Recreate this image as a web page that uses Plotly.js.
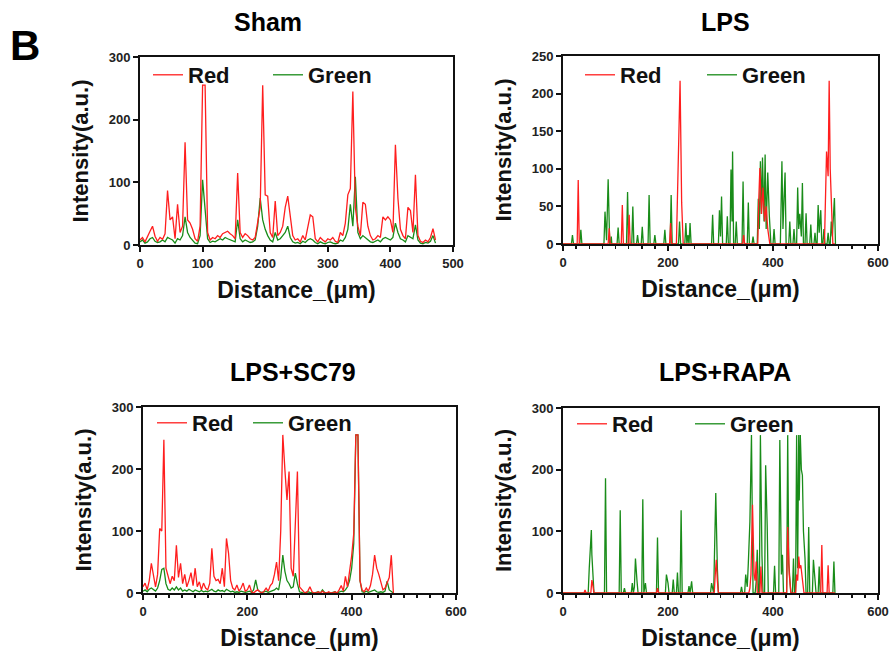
<!DOCTYPE html>
<html><head><meta charset="utf-8">
<script src="https://cdn.plot.ly/plotly-3.0.1.min.js"></script>
<style>html,body{margin:0;padding:0;background:#fff}#chart{width:891px;height:657px}</style>
</head><body><div id="chart"></div>
<script>
// ---------------- DATA ----------------
const panelTitles = ["Sham", "LPS", "LPS+SC79", "LPS+RAPA"];
const seriesNames = ["Red", "Green"];
const xTitle = "Distance_(μm)";
const yTitle = "Intensity(a.u.)";

// Sham (distance in μm)
const shamX = [0,4,8,12,16,20,24,28,32,36, 40,44,48,52,56,60,64,68,72,76,
  80,84,88,92,96,100,104,108,112,116, 120,124,128,132,136,140,144,148,152,156,
  160,164,168,172,176,180,184,188,192,196, 200,204,208,212,216,220,224,228,232,236,
  240,244,248,252,256,260,264,268,272,276, 280,284,288,292,296,300,304,308,312,316,
  320,324,328,332,336,340,344,348,352,356, 360,364,368,372,376,380,384,388,392,396,
  400,404,408,412,416,420,424,428,432,436, 440,444,448,452,456,460,464,468,472];
const shamRed = [8,12,5,15,22,30,14,6,12,9, 18,87,40,45,10,65,20,30,164,40,
  35,25,10,6,30,255,255,20,8,12, 10,15,12,18,20,22,18,15,10,115,
  20,12,18,15,10,8,12,40,60,255, 80,78,20,12,70,15,20,30,60,78,
  45,15,8,10,5,15,8,30,48,45, 10,5,12,8,5,10,8,12,6,4,
  20,15,35,80,90,245,60,30,15,68, 65,30,15,8,10,15,12,45,40,45,
  40,20,160,75,25,15,10,60,55,20, 112,15,6,4,8,5,12,26,8];
const shamGreen = [5,8,3,5,10,12,6,4,5,8, 5,12,10,8,3,10,8,15,45,20,
  12,8,3,2,15,104,60,10,4,6, 5,8,10,8,12,10,8,6,5,40,
  10,5,8,6,4,5,8,30,75,40, 25,15,8,5,20,8,10,15,20,30,
  12,5,3,4,2,6,4,8,10,8, 4,2,5,3,2,4,5,3,2,3,
  8,6,12,25,65,30,109,20,10,15, 12,8,5,4,6,8,5,10,12,10,
  8,12,35,20,10,8,5,15,12,10, 32,8,3,2,4,3,6,15,3];

// LPS
const lpsRedX = [0,27,29,31, 86,88,90, 111,113,115, 124,126,128, 203,205,207,
  216,218,220,223,226,229, 342,344,346, 371,373,375,378,381,384,387,390,392,394,
  498,500,502,505,507,509,511,514,518];
const lpsRed = [0,0,85,0, 0,21,0, 0,52,0, 0,39,0, 0,28,0,
  0,63,155,217,55,0, 0,12,0, 0,60,101,40,75,30,50,20,8,0,
  0,60,123,90,217,100,60,0,0];
const lpsGreenX = [0, 16,18,20, 32,34,36, 78,80,83,86,89, 91,92,93, 103,105,107,
  121,123,125, 131,133,135, 140,142,144, 149,151,153, 162,164,166, 173,175,177,
  192,194,196, 204,206,208, 220,222,224, 232,234,236,238,240,242,244, 283,285,287,
  296,298,300,302,304, 311,313,315, 318,320,322,323,325, 328,330,332, 341,343,345,
  351,353,355, 360,362,364, 370,372,374,376,378,380,383,385,387,390,393,396,
  400,402,404, 414,417,419,421,423,425, 430,432,434, 438,440,442,
  445,447,449,451,454,456,458, 461,463,465, 470,472,474, 478,480,482,
  484,486,488,491,493, 495,497,499, 503,505,507, 509,511,513,515,517,519];
const lpsGreen = [0, 0,12,0, 0,19,0, 0,43,5,86,0, 0,10,0, 0,22,0,
  0,69,0, 0,50,0, 0,12,0, 0,23,0, 0,65,0, 0,12,0,
  0,19,0, 0,65,0, 0,30,0, 0,28,0,12,0,28,0, 0,39,0,
  0,45,10,63,0, 0,37,0, 0,99,30,123,0, 0,30,0, 0,83,0,
  0,55,0, 0,10,0, 0,60,20,110,40,115,30,119,20,95,38,0,
  0,20,0, 0,110,20,60,95,0, 0,30,0, 0,20,0,
  0,75,20,40,10,81,0, 0,41,0, 0,26,0, 0,15,0,
  0,52,15,45,0, 0,20,0, 0,15,0, 0,30,10,40,61,0];

// LPS+SC79
const sc79X = [0,4,8,12,16,20,24,28,32,36, 40,44,48,52,56,60,64,68,72,76,
  80,84,88,92,96,100,104,108,112,116, 120,124,128,132,136,140,144,148,152,156,
  160,164,168,172,176,180,184,188,192,196, 200,204,208,212,216,220,224,228,232,236,
  240,244,248,252,256,260,264,268,272,276, 280,284,288,292,296,300,304,308,312,316,
  320,324,328,332,336,340,344,348,352,356, 360,364,368,372,376,380,384,388,392,396,
  400,404,408,412,416,420,424,428,432,436, 440,444,448,452,456,460,464,468,472,476, 480];
const sc79Red = [10,16,5,20,48,27,10,30,104,100, 247,40,27,15,27,20,77,25,48,15,
  30,10,20,33,12,40,10,18,5,16, 8,5,16,72,27,20,22,15,40,10,
  88,64,20,8,5,13,3,8,16,3, 5,13,2,0,3,5,2,0,3,8,
  3,12,16,30,50,20,100,255,199,150, 196,40,27,102,196,10,5,2,0,3,
  10,2,0,0,2,0,3,0,0,2, 0,0,2,0,5,12,3,27,10,35,
  60,96,255,255,20,5,2,8,3,12, 30,61,40,30,16,5,8,16,25,61, 0];
const sc79Green = [3,5,2,6,8,5,3,8,20,38, 40,15,6,4,8,5,10,5,8,3,
  5,3,6,4,2,5,3,2,4,2, 3,2,4,6,3,2,5,3,4,2,
  6,4,2,3,1,2,1,3,2,1, 2,3,1,5,21,5,2,1,2,3,
  1,2,3,5,8,5,25,61,35,20, 15,8,10,32,15,2,1,0,1,2,
  1,0,0,1,2,0,5,1,0,1, 0,1,2,0,1,3,2,5,10,20,
  40,80,255,255,20,2,1,3,1,2, 3,5,2,1,2,1,3,19,5,3, 0];

// LPS+RAPA
const rapaRedX = [0, 40,42,44, 53,55,57,59, 178,180,182, 288,290,292,294,296,
  354,356,358,361,364,366,368,370, 375,377,379, 426,428,431,434,
  443,445,447,449,451,453,456,459, 491,493,495, 503,505,507, 518];
const rapaRed = [0, 0,5,0, 0,21,12,0, 0,8,0, 0,30,54,20,0,
  0,8,30,143,30,20,51,0, 0,43,0, 0,107,30,0,
  0,30,20,59,40,45,20,0, 0,78,0, 0,45,0, 0];
const rapaGreenX = [0, 48,50,52,54,55,57,59, 79,81,83, 107,109,111, 115,117,119,
  130,132,134,136,138,141,143, 150,152,154,157,159, 178,180,182, 195,197,200,202,
  208,210,212, 216,218,220, 223,225,227, 238,240,242,245,247, 281,283,287,289,291,294,296,
  338,340,342, 346,348,351,353,356,359,362, 366,368,370,372, 374,376,379,381,
  384,386,389,391, 401,403,405, 411,413,416,418,420, 426,428,430,432,434, 437,439,441,
  443,445,447,449,450,452,454,456,458,461,463, 466,468,470, 475,477,480,482,
  486,488,490, 514,516,518];
const rapaGreen = [0, 0,40,78,102,62,30,0, 0,186,0, 0,134,0, 0,8,0,
  0,16,0,10,56,19,0, 0,152,0,16,0, 0,90,0, 0,30,16,0,
  0,22,0, 0,33,0, 0,134,0, 0,11,0,19,0, 0,16,0,78,162,40,0,
  0,10,0, 0,30,10,48,116,256,0, 0,19,70,0, 0,256,60,0,
  0,207,107,0, 0,44,0, 0,248,30,62,0, 0,256,48,20,0, 0,56,0,
  0,256,40,256,150,256,200,191,100,56,0, 0,107,0, 0,54,26,0,
  0,43,0, 0,51,0];

// ---------------- CHART ----------------
const W = 891, H = 657;
const FONT = "Arial, 'Liberation Sans', Helvetica, sans-serif";
const RED = "rgb(255,30,30)", GREEN = "rgb(25,140,25)";
const fx = v => v / W, fy = v => 1 - v / H;

const panelData = [
  {gx: shamX, g: shamGreen, rx: shamX, r: shamRed},
  {gx: lpsGreenX, g: lpsGreen, rx: lpsRedX, r: lpsRed},
  {gx: sc79X, g: sc79Green, rx: sc79X, r: sc79Red},
  {gx: rapaGreenX, g: rapaGreen, rx: rapaRedX, r: rapaRed}
];
const geom = [
  {xd:[140,453], yd:[57,245], xr:[0,500], yr:[0,300], xdt:100, ydt:100, minor:false, title:[268,22], leg:[148,75,75]},
  {xd:[563,878], yd:[56,244], xr:[0,600], yr:[0,250], xdt:200, ydt:50, minor:true, title:[725,22], leg:[580,75,77]},
  {xd:[143,456], yd:[407,593], xr:[0,600], yr:[0,300], xdt:200, ydt:100, minor:true, title:[293,372], leg:[152,423,51]},
  {xd:[563,878], yd:[408,593], xr:[0,600], yr:[0,300], xdt:200, ydt:100, minor:true, title:[725,372], leg:[572,424,73]}
];

const traces = [];
const layout = {
  width: W, height: H, margin: {l:0, r:0, t:0, b:0},
  paper_bgcolor: "#fff", plot_bgcolor: "#fff",
  font: {family: FONT, color: "#111"},
  showlegend: true, hovermode: false,
  annotations: [
    {text: "B", x: fx(25), y: fy(45), xref: "paper", yref: "paper", showarrow: false,
     xanchor: "center", yanchor: "middle", font: {size: 42, weight: "bold", color: "#000", family: FONT}}
  ]
};

geom.forEach((g, i) => {
  const n = i === 0 ? "" : String(i + 1);
  const legName = "legend" + n;
  const d = panelData[i];
  traces.push({x: d.gx, y: d.g, type: "scatter", mode: "lines", name: seriesNames[1],
    line: {color: GREEN, width: 1.3}, xaxis: "x" + n, yaxis: "y" + n, legend: legName, legendwidth: 80});
  traces.push({x: d.rx, y: d.r, type: "scatter", mode: "lines", name: seriesNames[0],
    line: {color: RED, width: 1.3}, xaxis: "x" + n, yaxis: "y" + n, legend: legName, legendwidth: g.leg[2]});

  const tickfont = {size: 13, weight: "bold", color: "#222", family: FONT};
  layout["xaxis" + n] = {
    domain: [fx(g.xd[0]), fx(g.xd[1])], range: g.xr, anchor: "y" + n,
    tick0: 0, dtick: g.xdt, ticks: "outside", ticklen: 5, tickwidth: 2, tickcolor: "#111",
    showline: true, linecolor: "#111", linewidth: 2, mirror: true,
    showgrid: false, zeroline: false, tickfont: tickfont,
    minor: g.minor ? {dtick: 25, tick0: 0, ticks: "outside", ticklen: 3, tickwidth: 1.5, tickcolor: "#111", showgrid: false} : undefined,
    title: {text: xTitle, standoff: 12, font: {size: 23, weight: "bold", color: "#111", family: FONT}},
    fixedrange: true
  };
  layout["yaxis" + n] = {
    domain: [fy(g.yd[1]), fy(g.yd[0])], range: g.yr, anchor: "x" + n,
    tick0: 0, dtick: g.ydt, ticks: "outside", ticklen: 5, tickwidth: 2, tickcolor: "#111",
    showline: true, linecolor: "#111", linewidth: 2, mirror: true,
    showgrid: false, zeroline: false, tickfont: tickfont,
    title: {text: yTitle, standoff: 14, font: {size: 22, weight: "bold", color: "#111", family: FONT}},
    fixedrange: true
  };
  layout[legName] = {
    x: fx(g.leg[0]), y: fy(g.leg[1]), xanchor: "left", yanchor: "middle",
    orientation: "h", traceorder: "reversed", entrywidthmode: "pixels",
    font: {size: 22, weight: "bold", color: "#111", family: FONT},
    bgcolor: "rgba(0,0,0,0)", borderwidth: 0
  };
  layout.annotations.push({text: panelTitles[i], x: fx(g.title[0]), y: fy(g.title[1]),
    xref: "paper", yref: "paper", showarrow: false, xanchor: "center", yanchor: "middle",
    font: {size: 25, weight: "bold", color: "#000", family: FONT}});
});

Plotly.newPlot("chart", traces, layout, {staticPlot: true, displayModeBar: false});
</script>
</body></html>
